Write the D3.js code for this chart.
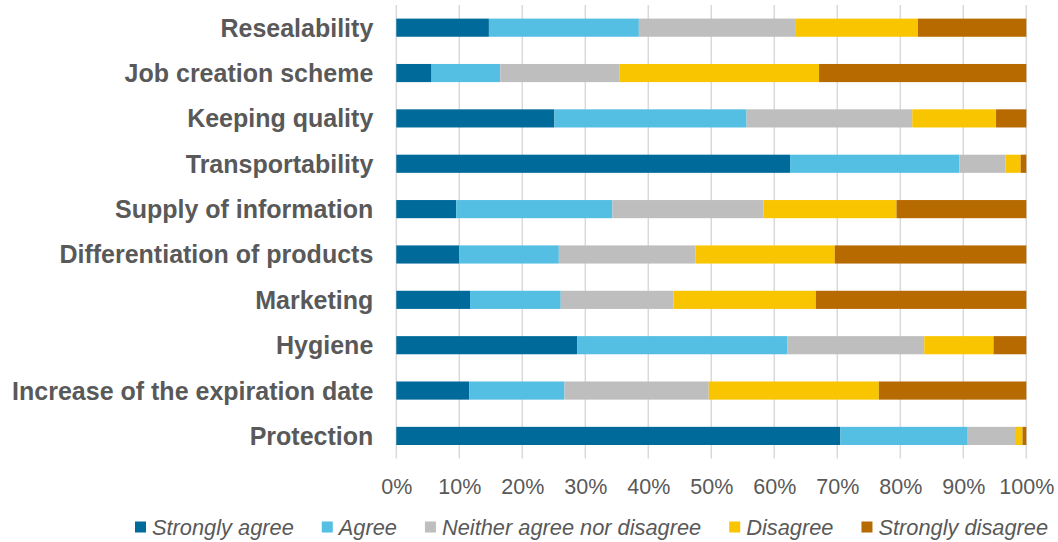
<!DOCTYPE html>
<html>
<head>
<meta charset="utf-8">
<script src="https://cdn.jsdelivr.net/npm/d3@7"></script>
<style>
  html, body { margin: 0; padding: 0; background: #fff; }
  svg { display: block; font-family: "Liberation Sans", Arial, sans-serif; }
</style>
</head>
<body>
<svg id="chart" width="1058" height="542"></svg>
<script>
// Survey items, top to bottom
const categories = [
  "Resealability",
  "Job creation scheme",
  "Keeping quality",
  "Transportability",
  "Supply of information",
  "Differentiation of products",
  "Marketing",
  "Hygiene",
  "Increase of the expiration date",
  "Protection"
];

// Answer shares (%) per item, in the order of categories
const stronglyAgree    = [14.7,  5.6, 25.1, 62.5,  9.5, 10.0, 11.7, 28.7, 11.6, 70.5];
const agree            = [23.8, 10.9, 30.5, 26.9, 24.8, 15.8, 14.4, 33.4, 15.1, 20.2];
const neither          = [24.8, 18.9, 26.3,  7.3, 24.0, 21.7, 17.9, 21.7, 22.9,  7.5];
const disagree         = [19.5, 31.7, 13.3,  2.4, 21.1, 22.1, 22.6, 11.0, 27.0,  1.2];
const stronglyDisagree = [17.2, 32.9,  4.8,  0.9, 20.6, 30.4, 33.4,  5.2, 23.4,  0.6];

const seriesNames  = ["Strongly agree", "Agree", "Neither agree nor disagree", "Disagree", "Strongly disagree"];
const seriesColors = ["#006a9b", "#55bee3", "#bebebe", "#f9c400", "#b76a00"];
const tickValues   = [0, 0.1, 0.2, 0.3, 0.4, 0.5, 0.6, 0.7, 0.8, 0.9, 1.0];

const keys = ["sa", "a", "n", "d", "sd"];
const rows = categories.map((c, i) => ({
  cat: c,
  sa: stronglyAgree[i], a: agree[i], n: neither[i], d: disagree[i], sd: stronglyDisagree[i]
}));

const stack = d3.stack().keys(keys).offset(d3.stackOffsetExpand);
const layers = stack(rows);

const svg = d3.select("#chart");
const margin = { left: 396.3, right: 1058 - 1026.3, top: 5, bottom: 542 - 458.6 };

const x = d3.scaleLinear().domain([0, 1]).range([margin.left, 1058 - margin.right]);
const y = d3.scaleBand().domain(categories)
  .range([margin.top, 542 - margin.bottom])
  .paddingInner(0.6).paddingOuter(0.3);

// vertical gridlines
svg.append("g").selectAll("line").data(tickValues).join("line")
  .attr("x1", d => x(d)).attr("x2", d => x(d))
  .attr("y1", margin.top).attr("y2", 542 - margin.bottom)
  .attr("stroke", "#d9d9d9").attr("stroke-width", 1.5);

// stacked bars
svg.append("g").selectAll("g").data(layers).join("g")
  .attr("fill", (d, i) => seriesColors[i])
  .selectAll("rect").data(d => d).join("rect")
  .attr("x", d => x(d[0]))
  .attr("width", d => x(d[1]) - x(d[0]))
  .attr("y", d => y(d.data.cat))
  .attr("height", y.bandwidth());

// category labels
const yAxis = d3.axisLeft(y).tickSize(0).tickPadding(23);
const gy = svg.append("g").attr("transform", `translate(${margin.left},1)`).call(yAxis);
gy.select(".domain").remove();
gy.selectAll("text")
  .attr("fill", "#595959")
  .style("font-size", "25px")
  .style("font-weight", "bold")
  .style("font-family", "'Liberation Sans', Arial, sans-serif");

// percentage axis
const xAxis = d3.axisBottom(x).tickValues(tickValues).tickSize(0).tickPadding(0)
  .tickFormat(d3.format(".0%"));
const gx = svg.append("g").attr("transform", "translate(0,479)").call(xAxis);
gx.select(".domain").remove();
gx.selectAll("text")
  .attr("fill", "#595959")
  .style("font-size", "21.5px")
  .style("font-family", "'Liberation Sans', Arial, sans-serif");

// legend
const legend = svg.append("g").attr("transform", "translate(135,527)");
let lx = 0;
seriesNames.forEach((name, i) => {
  const item = legend.append("g").attr("transform", `translate(${lx},0)`);
  item.append("rect").attr("x", 0).attr("y", -5.5).attr("width", 11).attr("height", 11)
    .attr("fill", seriesColors[i]);
  const t = item.append("text").attr("x", 17).attr("y", 0).attr("dy", "0.35em")
    .attr("fill", "#595959")
    .style("font-size", "21.8px").style("font-style", "italic")
    .text(name);
  lx += 17 + t.node().getComputedTextLength() + 28;
});
</script>
</body>
</html>
